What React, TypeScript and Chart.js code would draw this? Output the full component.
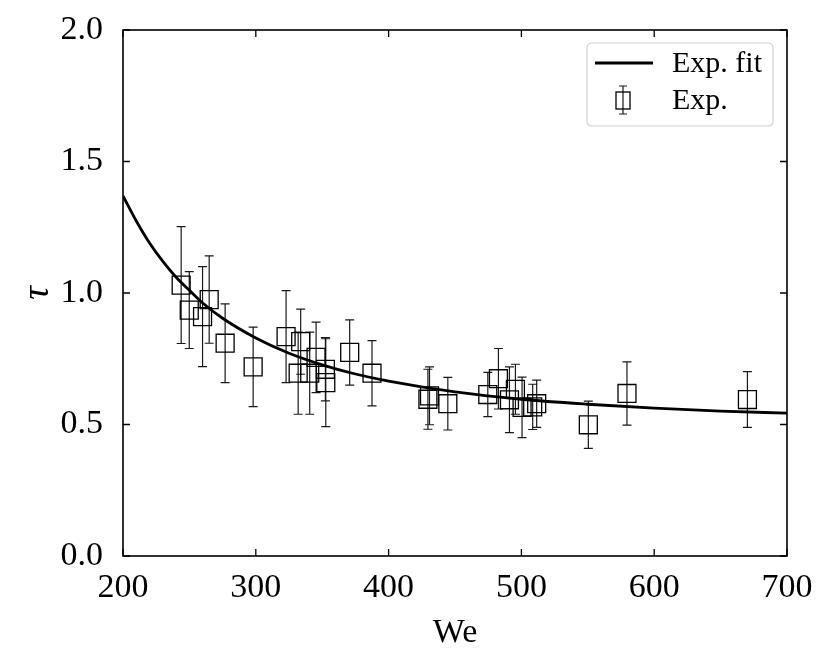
import React, { useEffect, useRef } from "react";
import { Chart, registerables } from "chart.js";

Chart.register(...registerables);

// Experimental points (We, tau, symmetric error)
const expWe = [243.8, 249.9, 259.9, 264.9, 276.9, 298.0, 322.8, 331.9, 333.8, 340.6, 345.4, 352.4, 352.7, 370.7, 387.5, 429.6, 430.8, 444.6, 474.7, 482.7, 491.0, 495.5, 500.5, 508.5, 511.5, 550.4, 579.5, 670.2];
const expTau = [1.030, 0.935, 0.910, 0.975, 0.809, 0.719, 0.834, 0.695, 0.815, 0.695, 0.755, 0.71, 0.659, 0.774, 0.695, 0.596, 0.609, 0.579, 0.614, 0.674, 0.594, 0.634, 0.565, 0.567, 0.579, 0.499, 0.618, 0.595];
const expErr = [0.222, 0.146, 0.190, 0.166, 0.150, 0.151, 0.175, 0.156, 0.124, 0.156, 0.134, 0.12, 0.167, 0.124, 0.124, 0.114, 0.110, 0.100, 0.084, 0.115, 0.125, 0.095, 0.115, 0.086, 0.090, 0.090, 0.120, 0.106];

// Fit curve values
const fitWe = [200, 210, 220, 230, 240, 250, 260, 275, 300, 325, 350, 375, 400, 450, 500, 550, 600, 650, 700];
const fitTau = [1.369, 1.274, 1.19, 1.12, 1.06, 1.01, 0.962, 0.904, 0.829, 0.771, 0.727, 0.692, 0.665, 0.624, 0.596, 0.577, 0.562, 0.551, 0.543];

const xTicks = [200, 300, 400, 500, 600, 700];
const yTicks = [0, 0.5, 1.0, 1.5, 2.0];
const xTickLabels = ["200", "300", "400", "500", "600", "700"];
const yTickLabels = ["0.0", "0.5", "1.0", "1.5", "2.0"];

const legendLabels = ["Exp. fit", "Exp."];
const xTitle = "We";
const yTitle = "τ";

const SERIF = "'Liberation Serif', 'DejaVu Serif', serif";

const overlay = {
  id: "overlay",
  beforeDatasetsDraw(chart: any) {
    const { ctx } = chart;
    const xs = chart.scales.x;
    const ys = chart.scales.y;
    ctx.save();
    ctx.strokeStyle = "#1a1a1a";
    ctx.lineWidth = 1.2;
    expWe.forEach((w, i) => {
      const px = xs.getPixelForValue(w);
      const t = ys.getPixelForValue(expTau[i] + expErr[i]);
      const b = ys.getPixelForValue(expTau[i] - expErr[i]);
      ctx.beginPath();
      ctx.moveTo(px, t);
      ctx.lineTo(px, b);
      ctx.moveTo(px - 4.5, t);
      ctx.lineTo(px + 4.5, t);
      ctx.moveTo(px - 4.5, b);
      ctx.lineTo(px + 4.5, b);
      ctx.stroke();
    });
    ctx.restore();
  },
  afterDraw(chart: any) {
    const { ctx, chartArea } = chart;
    const { left, right, top, bottom } = chartArea;
    const xs = chart.scales.x;
    const ys = chart.scales.y;
    ctx.save();
    // frame
    ctx.strokeStyle = "#000";
    ctx.lineWidth = 1.6;
    ctx.strokeRect(left, top, right - left, bottom - top);
    // inward ticks
    ctx.lineWidth = 1.3;
    ctx.beginPath();
    xTicks.forEach((v) => {
      const px = xs.getPixelForValue(v);
      ctx.moveTo(px, bottom);
      ctx.lineTo(px, bottom - 7);
      ctx.moveTo(px, top);
      ctx.lineTo(px, top + 7);
    });
    yTicks.forEach((v) => {
      const py = ys.getPixelForValue(v);
      ctx.moveTo(left, py);
      ctx.lineTo(left + 7, py);
      ctx.moveTo(right, py);
      ctx.lineTo(right - 7, py);
    });
    ctx.stroke();

    // axis titles
    ctx.fillStyle = "#000";
    ctx.font = `34px ${SERIF}`;
    ctx.textAlign = "center";
    ctx.textBaseline = "alphabetic";
    ctx.fillText(xTitle, (left + right) / 2, 642);
    ctx.save();
    ctx.translate(48, (top + bottom) / 2);
    ctx.rotate(-Math.PI / 2);
    ctx.font = `italic 38px ${SERIF}`;
    ctx.fillText(yTitle, 0, 0);
    ctx.restore();

    // legend
    const lx = 587, ly = 43, lw = 186, lh = 83, r = 5;
    ctx.beginPath();
    ctx.moveTo(lx + r, ly);
    ctx.lineTo(lx + lw - r, ly);
    ctx.quadraticCurveTo(lx + lw, ly, lx + lw, ly + r);
    ctx.lineTo(lx + lw, ly + lh - r);
    ctx.quadraticCurveTo(lx + lw, ly + lh, lx + lw - r, ly + lh);
    ctx.lineTo(lx + r, ly + lh);
    ctx.quadraticCurveTo(lx, ly + lh, lx, ly + lh - r);
    ctx.lineTo(lx, ly + r);
    ctx.quadraticCurveTo(lx, ly, lx + r, ly);
    ctx.closePath();
    ctx.fillStyle = "rgba(255,255,255,0.85)";
    ctx.fill();
    ctx.strokeStyle = "#d0d0d0";
    ctx.lineWidth = 1.2;
    ctx.stroke();

    // line sample
    ctx.strokeStyle = "#000";
    ctx.lineWidth = 2.8;
    ctx.beginPath();
    ctx.moveTo(595, 63);
    ctx.lineTo(653, 63);
    ctx.stroke();
    // marker sample
    const mx = 623, my = 100;
    ctx.lineWidth = 1.2;
    ctx.strokeStyle = "#1a1a1a";
    ctx.beginPath();
    ctx.moveTo(mx, my - 14);
    ctx.lineTo(mx, my + 14);
    ctx.moveTo(mx - 4, my - 14);
    ctx.lineTo(mx + 4, my - 14);
    ctx.moveTo(mx - 4, my + 14);
    ctx.lineTo(mx + 4, my + 14);
    ctx.stroke();
    ctx.lineWidth = 1.3;
    ctx.strokeStyle = "#000";
    ctx.strokeRect(mx - 7, my - 8, 14, 17);

    ctx.fillStyle = "#000";
    ctx.font = `30px ${SERIF}`;
    ctx.textAlign = "left";
    ctx.textBaseline = "middle";
    ctx.fillText(legendLabels[0], 672, 64);
    ctx.fillText(legendLabels[1], 672, 101);
    ctx.restore();
  },
};

export default function App() {
  const ref = useRef<HTMLCanvasElement | null>(null);
  useEffect(() => {
    if (!ref.current) return;
    const chart = new Chart(ref.current, {
      type: "scatter",
      data: {
        datasets: [
          {
            type: "line",
            label: legendLabels[0],
            data: fitWe.map((x, i) => ({ x, y: fitTau[i] })),
            borderColor: "#000",
            borderWidth: 2.8,
            pointRadius: 0,
            fill: false,
            cubicInterpolationMode: "monotone",
          } as any,
          {
            type: "scatter",
            label: legendLabels[1],
            data: expWe.map((x, i) => ({ x, y: expTau[i] })),
            pointStyle: "rect",
            pointRadius: 12.7,
            pointHoverRadius: 12.7,
            borderColor: "#000",
            borderWidth: 1.3,
            backgroundColor: "rgba(0,0,0,0)",
          } as any,
        ],
      },
      options: {
        responsive: false,
        animation: false,
        devicePixelRatio: 1,
        layout: { padding: { top: 30, right: 43, left: 0, bottom: 0 } },
        plugins: { legend: { display: false }, tooltip: { enabled: false } },
        scales: {
          x: {
            type: "linear",
            min: 200,
            max: 700,
            grid: { display: false, drawTicks: false },
            border: { display: false },
            afterBuildTicks: (s: any) => {
              s.ticks = xTicks.map((v) => ({ value: v }));
            },
            afterFit: (s: any) => {
              s.height = 112;
              s.paddingLeft = 0;
              s.paddingRight = 0;
            },
            ticks: {
              color: "#000",
              padding: 12,
              maxRotation: 0,
              font: { family: SERIF, size: 34 },
              callback: (v: any) => {
                const i = xTicks.indexOf(Number(v));
                return i >= 0 ? xTickLabels[i] : "";
              },
            },
          },
          y: {
            type: "linear",
            min: 0,
            max: 2,
            grid: { display: false, drawTicks: false },
            border: { display: false },
            afterBuildTicks: (s: any) => {
              s.ticks = yTicks.map((v) => ({ value: v }));
            },
            afterFit: (s: any) => {
              s.width = 123;
              s.paddingTop = 0;
              s.paddingBottom = 0;
            },
            ticks: {
              color: "#000",
              padding: 20,
              font: { family: SERIF, size: 34 },
              callback: (v: any) => {
                const i = yTicks.indexOf(Number(v));
                return i >= 0 ? yTickLabels[i] : "";
              },
            },
          },
        },
      },
      plugins: [overlay],
    });
    return () => chart.destroy();
  }, []);
  return (
    <div style={{ position: "absolute", left: 0, top: 0, width: 830, height: 668, background: "#fff" }}>
      <canvas ref={ref} width={830} height={668} />
    </div>
  );
}
